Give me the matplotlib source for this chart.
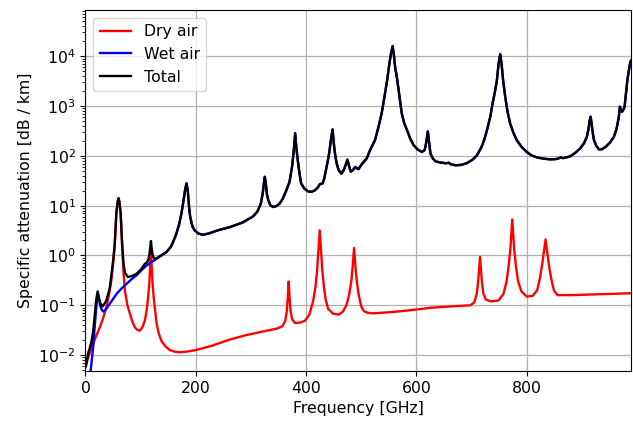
import numpy as np
import matplotlib
matplotlib.use("Agg")
import matplotlib.pyplot as plt

# (frequency GHz, specific attenuation dB/km)
dry_air = [
    (1, 0.0062), (5, 0.009), (10, 0.013), (14, 0.017), (20, 0.025), (26, 0.036),
    (32, 0.055), (38, 0.092), (43, 0.17), (47, 0.32), (50, 0.65), (53, 1.5),
    (56, 6.9), (58.5, 12), (60, 14), (61.5, 12), (63.8, 6.9), (66.5, 1.5),
    (69, 0.45), (71.5, 0.2), (76, 0.1), (80.5, 0.068), (85, 0.047), (89.6, 0.036),
    (94, 0.032), (98.6, 0.031), (103, 0.036), (107.7, 0.049), (111, 0.08),
    (113.7, 0.145), (116, 0.3), (117.7, 0.7), (118.75, 1.25), (119.8, 0.7),
    (121.5, 0.3), (123.7, 0.145), (126.5, 0.075), (129, 0.043), (133, 0.027),
    (138, 0.019), (145, 0.015), (153, 0.0126), (162, 0.0117), (171, 0.0114),
    (185, 0.0118), (200, 0.0126), (230, 0.0155), (261, 0.0204), (290, 0.025),
    (320, 0.0295), (347, 0.034), (357, 0.038), (362, 0.048), (365, 0.075),
    (367, 0.15), (368.5, 0.3), (370, 0.15), (372, 0.075), (375, 0.052),
    (380, 0.044), (389, 0.045), (398, 0.049), (406, 0.065), (413, 0.125),
    (417, 0.23), (420, 0.5), (422.5, 1.3), (424.8, 3.2), (427, 1.3), (429.5, 0.5),
    (432.5, 0.23), (435.5, 0.13), (440, 0.085), (449, 0.068), (459, 0.065),
    (467, 0.075), (473, 0.1), (478, 0.16), (482, 0.3), (484.5, 0.6), (487, 1.41),
    (489.5, 0.6), (492, 0.3), (495.5, 0.16), (500, 0.095), (505, 0.076),
    (513, 0.07), (522, 0.069), (561, 0.074), (595, 0.081), (625, 0.089),
    (662, 0.095), (698, 0.1), (705, 0.115), (709.5, 0.17), (712, 0.3),
    (713.8, 0.55), (715.4, 0.93), (717, 0.55), (718.8, 0.3), (721.5, 0.17),
    (726, 0.13), (735, 0.12), (749, 0.125), (758, 0.17), (763.5, 0.3),
    (767.5, 0.65), (770.5, 1.4), (772.5, 3), (773.8, 5.3), (775.2, 3),
    (777.2, 1.4), (780.2, 0.65), (784.5, 0.3), (790.5, 0.19), (800, 0.15),
    (811, 0.155), (819, 0.2), (824, 0.35), (828, 0.65), (831.3, 1.2),
    (834.2, 2.1), (837, 1.2), (840.3, 0.65), (844.3, 0.35), (849.3, 0.2),
    (856, 0.16), (882, 0.16), (922, 0.165), (962, 0.17), (992, 0.175),
]

wet_air = [
    (3, 0.002), (8, 0.0035), (11, 0.007), (14, 0.0144), (17, 0.04), (20, 0.1),
    (22.2, 0.18), (24.5, 0.13), (27, 0.095), (30, 0.08), (32, 0.075), (36, 0.08),
    (40, 0.092), (44, 0.107), (50, 0.135), (56.5, 0.17), (65, 0.215),
    (74.6, 0.27), (83, 0.33), (92.7, 0.4), (101, 0.5), (110.8, 0.63),
    (120, 0.74), (129, 0.86), (138, 1.0), (147, 1.17), (155, 1.5), (160, 2.0),
    (165, 2.76), (170, 4.3), (174, 6.9), (178, 13), (181, 22), (183.3, 28),
    (185.5, 20), (188, 9), (190, 5.9), (194, 3.8), (198, 3.2), (205, 2.75),
    (213, 2.6), (225, 2.8), (240, 3.2), (261.5, 3.7), (285, 4.6), (304, 6.1),
    (312, 7.7), (318, 11), (321.5, 18), (323.5, 28), (325.2, 38), (327, 28),
    (329, 17), (331.5, 12.9), (335, 10.3), (340, 9.4), (346, 9.8), (352, 11),
    (358, 14), (364, 20), (370, 30), (375, 65), (378, 140), (380.2, 285),
    (382.5, 140), (385, 81), (388, 45), (391, 28), (397, 22), (403, 19.5),
    (409, 18.9), (415, 20), (421, 23), (425, 27), (430, 28), (433, 35),
    (436, 51), (439.5, 81), (442, 115), (444.5, 190), (448, 340), (450.5, 170),
    (452.5, 110), (455.5, 70), (459, 52), (464, 44), (468, 51), (471, 62),
    (475, 84), (478, 62), (481, 48), (485, 52), (489, 60), (492, 56), (495, 54),
    (501, 68), (510, 89), (516, 130), (525, 207), (531, 370), (537, 710),
    (542, 1500), (547, 3300), (551, 7000), (554, 11500), (557, 16000),
    (559.5, 10000), (561.5, 6000), (564.5, 3890), (568.5, 1800), (573.5, 710),
    (578, 450), (583, 329), (589, 220), (595, 164), (602, 135), (610, 120),
    (615, 130), (618, 190), (620.7, 310), (623, 190), (625.5, 112), (630, 88),
    (634.5, 78), (642, 74), (649.5, 72), (654, 71), (658.5, 73), (662, 68),
    (671, 64.6), (682, 66), (692, 72), (702, 84), (710, 103), (718, 150),
    (723, 210), (728, 329), (734, 610), (738, 1100), (743, 2100), (746, 3300),
    (749, 7000), (752, 11000), (754.5, 7000), (757, 3500), (761, 1550),
    (765, 800), (770, 447), (776, 290), (782, 207), (791, 150), (800, 120),
    (809, 102), (819, 93), (830, 88), (843, 85), (852, 86), (857, 88), (861, 93),
    (866, 90), (879, 98), (888, 115), (897, 141), (904, 180), (909, 240),
    (912, 340), (914, 500), (916, 610), (918, 420), (920, 280), (922, 207),
    (926, 160), (931, 135), (936, 135), (943, 151), (951, 185), (958, 240),
    (963, 350), (967, 600), (969, 970), (971, 850), (973, 770), (975.5, 850),
    (977.5, 970), (980, 1800), (982.5, 3300), (985, 5000), (988, 7800),
    (992, 9000),
]

# total below 150 GHz (above that it coincides with the wet-air curve)
total_low = [
    (0.5, 0.0059), (1, 0.0062), (5, 0.011), (8, 0.014), (11, 0.019), (14, 0.03),
    (17, 0.068), (19.5, 0.13), (22.2, 0.19), (24.5, 0.14), (27, 0.11),
    (31, 0.095), (34, 0.105), (38, 0.126), (44, 0.22), (47, 0.4), (50, 0.75),
    (53, 1.65), (56, 7.1), (58.5, 12.2), (60, 14.2), (61.5, 12.2), (63.8, 7.2),
    (66.5, 1.75), (69, 0.7), (71.5, 0.45), (77, 0.37), (85, 0.39), (92.7, 0.43),
    (101, 0.53), (107.7, 0.68), (111, 0.72), (113.7, 0.8), (116, 1.05),
    (117.7, 1.5), (118.75, 1.95), (119.8, 1.5), (121.5, 1.05), (123.7, 0.9),
    (126.5, 0.85), (129, 0.88), (138, 1.02), (147, 1.18),
]
total_air = total_low + [p for p in wet_air if p[0] >= 155]

fd, vd = zip(*dry_air)
fw, vw = zip(*wet_air)
ft, vt = zip(*total_air)

plt.rcParams['font.size'] = 11.3

fig = plt.figure(figsize=(6.33, 4.22), dpi=100)
ax = fig.add_axes([0.135, 0.1209, 0.8626, 0.8555])
ax.plot(fd, vd, color='r', lw=1.7, label='Dry air')
ax.plot(fw, vw, color='b', lw=1.7, label='Wet air')
ax.plot(ft, vt, color='k', lw=1.7, label='Total')
ax.set_yscale('log')
ax.set_xlim(0, 990)
ax.set_ylim(4.8e-3, 8.5e4)
ax.grid(which='major', color='#b0b0b0', lw=0.9)
ax.set_xlabel('Frequency [GHz]')
ax.set_ylabel('Specific attenuation [dB / km]')
ax.legend(loc='upper left')
fig.savefig('out.png', dpi=100)
